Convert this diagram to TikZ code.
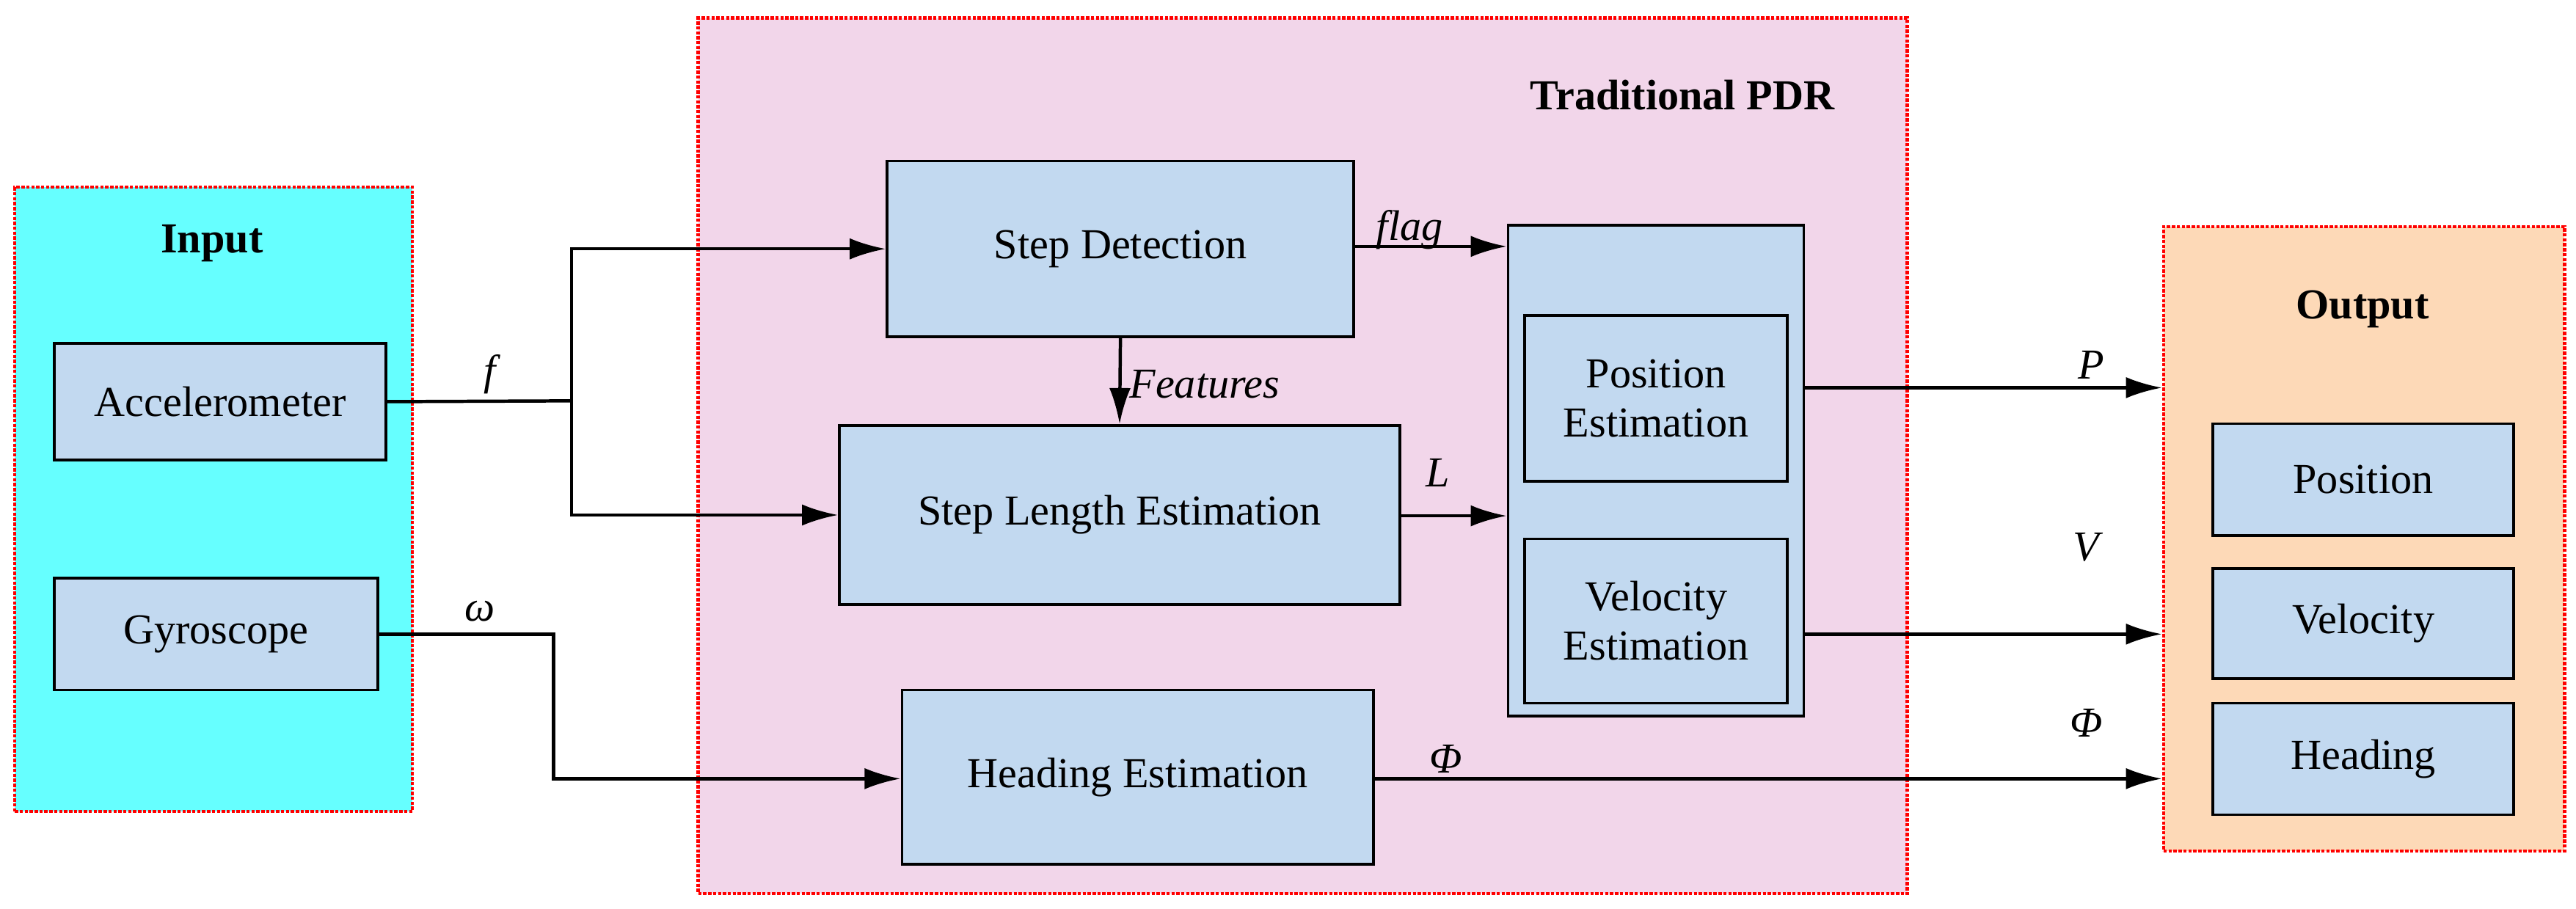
\documentclass[tikz,border=0pt]{standalone}
\usepackage{fontspec}
\setmainfont{Liberation Serif}
\usetikzlibrary{arrows.meta}
\begin{document}
\begin{tikzpicture}[x=1pt,y=-1pt,
 grp/.style={draw=red,densely dotted,line width=2pt},
 blk/.style={draw=black,line width=1.6pt,fill=blockblue,align=center,font=\fontsize{26}{30}\selectfont},
 arr/.style={line width=2pt,-{Latex[length=22pt,width=13pt]}},
 ln/.style={line width=2pt},
 lab/.style={font=\fontsize{26}{30}\selectfont\itshape}]
\definecolor{blockblue}{HTML}{C2D9F0}
\definecolor{cyanbg}{HTML}{66FFFF}
\definecolor{pinkbg}{HTML}{F2D6EA}
\definecolor{peachbg}{HTML}{FDD9B7}
\useasboundingbox (0,0) rectangle (1568,553);
\node[grp,fill=cyanbg,minimum width=242pt,minimum height=380pt,anchor=north west] (in) at (8,113) {};
\node[grp,fill=pinkbg,minimum width=736pt,minimum height=533pt,anchor=north west] (pdr) at (424,10) {};
\node[grp,fill=peachbg,minimum width=244pt,minimum height=380pt,anchor=north west] (out) at (1316,137) {};
\node[font=\fontsize{26}{30}\selectfont\bfseries] (tin) at (129,148) {Input};
\node[font=\fontsize{26}{30}\selectfont\bfseries] (tpdr) at (1024,58) {Traditional PDR};
\node[font=\fontsize{26}{30}\selectfont\bfseries] (tout) at (1438,188) {Output};
\node[blk,minimum width=202pt,minimum height=71pt] (acc) at (134,244.5) {Accelerometer};
\node[blk,minimum width=197pt,minimum height=68pt] (gyr) at (131.5,386) {Gyroscope};
\node[blk,minimum width=284pt,minimum height=107pt] (sd) at (682,151.5) {Step Detection};
\node[blk,minimum width=341pt,minimum height=109pt] (sl) at (681.5,313.5) {Step Length Estimation};
\node[blk,minimum width=287pt,minimum height=106pt] (he) at (692.5,473) {Heading Estimation};
\node[blk,minimum width=180pt,minimum height=299pt] (big) at (1008,286.5) {};
\node[blk,minimum width=160pt,minimum height=101pt] (pe) at (1008,242.5) {Position\\Estimation};
\node[blk,minimum width=160pt,minimum height=100pt] (ve) at (1008,378) {Velocity\\Estimation};
\node[blk,minimum width=183pt,minimum height=68pt] (po) at (1438.5,292) {Position};
\node[blk,minimum width=183pt,minimum height=67pt] (vo) at (1438.5,379.5) {Velocity};
\node[blk,minimum width=183pt,minimum height=68pt] (ho) at (1438.5,462) {Heading};
\coordinate (j) at (348,244);
\draw[ln] (acc.east) -- (j);
\draw[arr] (j) |- (sd.west);
\draw[arr] (j) |- (sl.west);
\node[lab] (lf) at (298,228) {f};
\draw[arr] (gyr.east) -| (337,474) -- (he.west |- 0,474);
\node[lab] (lw) at (292,372) {ω};
\draw[arr] (sd.south) -- (sl.north);
\node[lab,anchor=west] (lfe) at (684,234) {Features};
\draw[arr] (sd.east |- 0,150) -- (big.west |- 0,150);
\node[lab] (lfl) at (858,140) {flag};
\draw[arr] (sl.east |- 0,314) -- (big.west |- 0,314);
\node[lab] (ll) at (875,288) {L};
\draw[arr] (big.east |- 0,236) -- (out.west |- 0,236);
\node[lab] (lp) at (1273,222) {P};
\draw[arr] (big.east |- 0,386) -- (out.west |- 0,386);
\node[lab] (lv) at (1270,333) {V};
\draw[arr] (he.east |- 0,474) -- (out.west |- 0,474);
\node[lab] (lph1) at (880,462) {Φ};
\node[lab] (lph2) at (1270,440) {Φ};
\end{tikzpicture}
\end{document}
